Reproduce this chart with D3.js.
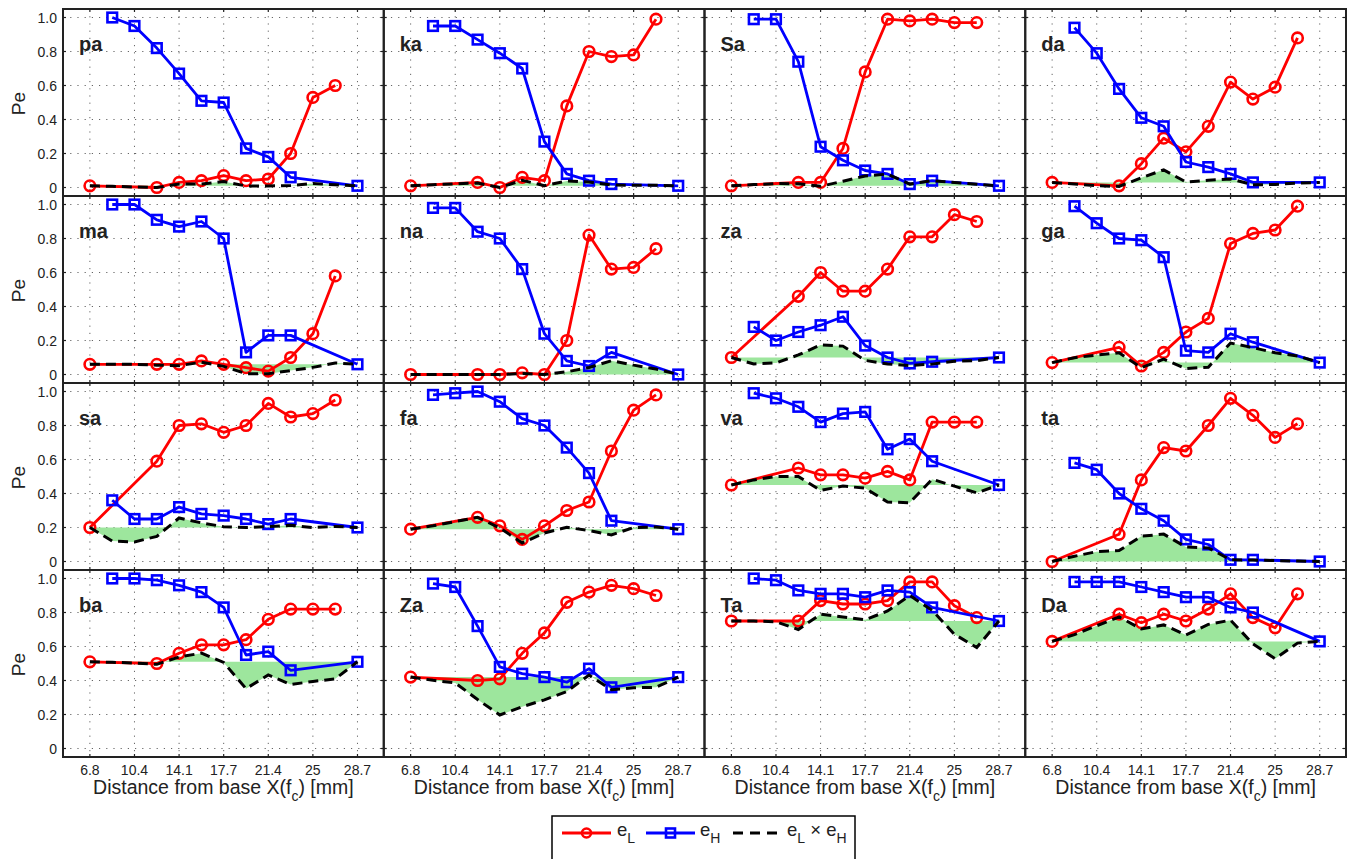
<!DOCTYPE html>
<html>
<head>
<meta charset="utf-8">
<script src="https://cdn.jsdelivr.net/npm/d3@7"></script>
<style>
  html, body { margin: 0; padding: 0; background: #fff; }
  svg { display: block; font-family: "Liberation Sans", Arial, Helvetica, sans-serif; }
</style>
</head>
<body>
<svg id="chart" width="1354" height="859"></svg>
<script>
// Syllables, one panel each, in reading order (4 x 4 grid)
const syllables = ["pa", "ka", "Sa", "da",
                   "ma", "na", "za", "ga",
                   "sa", "fa", "va", "ta",
                   "ba", "Za", "Ta", "Da"];

// Filter cutoff positions along the cochlea, X(fc) in mm
const channelX = [6.8, 8.63, 10.45, 12.28, 14.1, 15.93, 17.75, 19.58, 21.4, 23.23, 25.05, 26.88, 28.7];
const xTickValues = [6.8, 10.45, 14.1, 17.75, 21.4, 25.05, 28.7];
const xTickLabels = ["6.8", "10.4", "14.1", "17.7", "21.4", "25", "28.7"];
const yTickValues = [0, 0.2, 0.4, 0.6, 0.8, 1.0];
const yTickLabels = ["0", "0.2", "0.4", "0.6", "0.8", "1.0"];

// e_L: error with low-pass filtering (null = not measured at that cutoff)
const eL = [
  [0.01, null, null, 0.00, 0.03, 0.04, 0.07, 0.04, 0.05, 0.20, 0.53, 0.60, null], // pa
  [0.01, null, null, 0.03, 0.00, 0.06, 0.04, 0.48, 0.80, 0.77, 0.78, 0.99, null], // ka
  [0.01, null, null, 0.03, 0.03, 0.23, 0.68, 0.99, 0.98, 0.99, 0.97, 0.97, null], // Sa
  [0.03, null, null, 0.01, 0.14, 0.29, 0.21, 0.36, 0.62, 0.52, 0.59, 0.88, null], // da
  [0.06, null, null, 0.06, 0.06, 0.08, 0.06, 0.04, 0.02, 0.10, 0.24, 0.58, null], // ma
  [0.00, null, null, 0.00, 0.00, 0.01, 0.00, 0.20, 0.82, 0.62, 0.63, 0.74, null], // na
  [0.10, null, null, 0.46, 0.60, 0.49, 0.49, 0.62, 0.81, 0.81, 0.94, 0.90, null], // za
  [0.07, null, null, 0.16, 0.05, 0.13, 0.25, 0.33, 0.77, 0.83, 0.85, 0.99, null], // ga
  [0.20, null, null, 0.59, 0.80, 0.81, 0.76, 0.80, 0.93, 0.85, 0.87, 0.95, null], // sa
  [0.19, null, null, 0.26, 0.21, 0.13, 0.21, 0.30, 0.35, 0.65, 0.89, 0.98, null], // fa
  [0.45, null, null, 0.55, 0.51, 0.51, 0.49, 0.53, 0.48, 0.82, 0.82, 0.82, null], // va
  [0.00, null, null, 0.16, 0.48, 0.67, 0.65, 0.80, 0.96, 0.86, 0.73, 0.81, null], // ta
  [0.51, null, null, 0.50, 0.56, 0.61, 0.61, 0.64, 0.76, 0.82, 0.82, 0.82, null], // ba
  [0.42, null, null, 0.40, 0.41, 0.56, 0.68, 0.86, 0.92, 0.96, 0.94, 0.90, null], // Za
  [0.75, null, null, 0.75, 0.87, 0.85, 0.85, 0.87, 0.98, 0.98, 0.84, 0.77, null], // Ta
  [0.63, null, null, 0.79, 0.74, 0.79, 0.75, 0.82, 0.91, 0.77, 0.71, 0.91, null]  // Da
];

// e_H: error with high-pass filtering
const eH = [
  [null, 1.00, 0.95, 0.82, 0.67, 0.51, 0.50, 0.23, 0.18, 0.06, null, null, 0.01], // pa
  [null, 0.95, 0.95, 0.87, 0.79, 0.70, 0.27, 0.08, 0.04, 0.02, null, null, 0.01], // ka
  [null, 0.99, 0.99, 0.74, 0.24, 0.16, 0.10, 0.08, 0.02, 0.04, null, null, 0.01], // Sa
  [null, 0.94, 0.79, 0.58, 0.41, 0.36, 0.15, 0.12, 0.08, 0.03, null, null, 0.03], // da
  [null, 1.00, 1.00, 0.91, 0.87, 0.90, 0.80, 0.13, 0.23, 0.23, null, null, 0.06], // ma
  [null, 0.98, 0.98, 0.84, 0.80, 0.62, 0.24, 0.08, 0.05, 0.13, null, null, 0.00], // na
  [null, 0.28, 0.20, 0.25, 0.29, 0.34, 0.17, 0.10, 0.065, 0.075, null, null, 0.10], // za
  [null, 0.99, 0.89, 0.80, 0.79, 0.69, 0.14, 0.13, 0.24, 0.19, null, null, 0.07], // ga
  [null, 0.36, 0.25, 0.25, 0.32, 0.28, 0.27, 0.25, 0.22, 0.25, null, null, 0.20], // sa
  [null, 0.98, 0.99, 1.00, 0.94, 0.84, 0.80, 0.67, 0.52, 0.24, null, null, 0.19], // fa
  [null, 0.99, 0.96, 0.91, 0.82, 0.87, 0.88, 0.66, 0.72, 0.59, null, null, 0.45], // va
  [null, 0.58, 0.54, 0.40, 0.31, 0.24, 0.13, 0.10, 0.01, 0.01, null, null, 0.00], // ta
  [null, 1.00, 1.00, 0.99, 0.96, 0.92, 0.83, 0.55, 0.57, 0.46, null, null, 0.51], // ba
  [null, 0.97, 0.95, 0.72, 0.48, 0.44, 0.42, 0.39, 0.47, 0.36, null, null, 0.42], // Za
  [null, 1.00, 0.99, 0.93, 0.91, 0.91, 0.89, 0.93, 0.92, 0.83, null, null, 0.75], // Ta
  [null, 0.98, 0.98, 0.98, 0.95, 0.92, 0.89, 0.89, 0.83, 0.80, null, null, 0.63]  // Da
];

// e_L x e_H at every cutoff
const eLxH = [
  [0.01, 0.007, 0.003, 0.00, 0.02, 0.02, 0.035, 0.009, 0.009, 0.012, 0.023, 0.016, 0.01], // pa
  [0.01, 0.016, 0.022, 0.026, 0.00, 0.042, 0.011, 0.038, 0.032, 0.015, 0.013, 0.013, 0.01], // ka
  [0.01, 0.017, 0.023, 0.022, 0.007, 0.037, 0.068, 0.079, 0.02, 0.04, 0.029, 0.019, 0.01], // Sa
  [0.03, 0.02, 0.011, 0.006, 0.057, 0.104, 0.032, 0.043, 0.05, 0.016, 0.018, 0.026, 0.03], // da
  [0.06, 0.06, 0.06, 0.055, 0.052, 0.072, 0.048, 0.005, 0.005, 0.023, 0.042, 0.068, 0.06], // ma
  [0.00, 0.00, 0.00, 0.00, 0.00, 0.006, 0.00, 0.016, 0.041, 0.081, 0.055, 0.032, 0.00], // na
  [0.10, 0.062, 0.068, 0.115, 0.174, 0.167, 0.083, 0.062, 0.053, 0.061, 0.078, 0.081, 0.10], // za
  [0.07, 0.099, 0.114, 0.128, 0.04, 0.09, 0.035, 0.043, 0.185, 0.158, 0.128, 0.109, 0.07], // ga
  [0.20, 0.12, 0.115, 0.148, 0.256, 0.227, 0.205, 0.20, 0.205, 0.213, 0.20, 0.206, 0.20], // sa
  [0.19, 0.21, 0.235, 0.26, 0.197, 0.109, 0.168, 0.201, 0.182, 0.156, 0.20, 0.203, 0.19], // fa
  [0.45, 0.48, 0.50, 0.50, 0.418, 0.444, 0.431, 0.35, 0.346, 0.484, 0.443, 0.404, 0.45], // va
  [0.00, 0.031, 0.058, 0.064, 0.149, 0.161, 0.085, 0.08, 0.01, 0.009, 0.005, 0.003, 0.00], // ta
  [0.51, 0.507, 0.503, 0.495, 0.538, 0.561, 0.506, 0.352, 0.433, 0.377, 0.394, 0.41, 0.51], // ba
  [0.42, 0.401, 0.386, 0.288, 0.197, 0.246, 0.286, 0.335, 0.432, 0.346, 0.357, 0.36, 0.42], // Za
  [0.75, 0.75, 0.745, 0.70, 0.79, 0.774, 0.757, 0.809, 0.90, 0.813, 0.672, 0.594, 0.75], // Ta
  [0.63, 0.67, 0.722, 0.774, 0.703, 0.727, 0.668, 0.73, 0.755, 0.616, 0.528, 0.62, 0.63]  // Da
];

// ---- layout ----
const svg = d3.select("#chart");
const gridLeft = 63, gridTop = 9;
const panelW = 320.75, panelH = 187;
const nCols = 4, nRows = 4;

const RED = "#ff0000", BLUE = "#0000ff", FILL = "#9de69d", TEXT = "#222", FRAME = "#222";

const x = d3.scaleLinear().domain([4.6, 30.85]).range([0, panelW]);
const y = d3.scaleLinear().domain([-0.05, 1.05]).range([panelH, 0]);

const line = d3.line().x(d => x(d.x)).y(d => y(d.v));

syllables.forEach((name, k) => {
  const col = k % nCols, row = Math.floor(k / nCols);
  const g = svg.append("g")
    .attr("transform", `translate(${gridLeft + col * panelW},${gridTop + row * panelH})`);

  // dotted grid
  g.append("g").selectAll("line").data(xTickValues).join("line")
    .attr("x1", d => x(d)).attr("x2", d => x(d))
    .attr("y1", 0).attr("y2", panelH)
    .attr("stroke", "#333").attr("stroke-opacity", 0.75)
    .attr("stroke-width", 1).attr("stroke-dasharray", "1.2,6");
  g.append("g").selectAll("line").data(yTickValues).join("line")
    .attr("x1", 0).attr("x2", panelW)
    .attr("y1", d => y(d)).attr("y2", d => y(d))
    .attr("stroke", "#333").attr("stroke-opacity", 0.75)
    .attr("stroke-width", 1).attr("stroke-dasharray", "1.2,6");

  const prod = eLxH[k].map((v, i) => ({ x: channelX[i], v }));
  const first = prod[0], last = prod[prod.length - 1];
  const baseAt = xv => first.v + (last.v - first.v) * (xv - first.x) / (last.x - first.x);

  // shaded region between the product curve and the full-band level
  g.append("path")
    .datum(prod)
    .attr("d", d3.area().x(d => x(d.x)).y0(d => y(baseAt(d.x))).y1(d => y(d.v)))
    .attr("fill", FILL).attr("stroke", "none");

  const lowPts = eL[k].map((v, i) => ({ x: channelX[i], v })).filter(d => d.v !== null);
  const highPts = eH[k].map((v, i) => ({ x: channelX[i], v })).filter(d => d.v !== null);

  // e_L: red line with circles
  g.append("path").datum(lowPts).attr("d", line)
    .attr("fill", "none").attr("stroke", RED).attr("stroke-width", 2.8)
    .attr("stroke-linejoin", "round");
  g.append("g").selectAll("circle").data(lowPts).join("circle")
    .attr("cx", d => x(d.x)).attr("cy", d => y(d.v)).attr("r", 5.3)
    .attr("fill", "none").attr("stroke", RED).attr("stroke-width", 2.6);

  // e_H: blue line with squares
  g.append("path").datum(highPts).attr("d", line)
    .attr("fill", "none").attr("stroke", BLUE).attr("stroke-width", 2.8)
    .attr("stroke-linejoin", "round");
  g.append("g").selectAll("rect").data(highPts).join("rect")
    .attr("x", d => x(d.x) - 4.8).attr("y", d => y(d.v) - 4.8)
    .attr("width", 9.6).attr("height", 9.6)
    .attr("fill", "none").attr("stroke", BLUE).attr("stroke-width", 2.6);

  // e_L x e_H: black dashed
  g.append("path").datum(prod).attr("d", line)
    .attr("fill", "none").attr("stroke", "#000").attr("stroke-width", 3)
    .attr("stroke-dasharray", "10,6");

  // tick marks (inward, mirrored)
  const tk = g.append("g").attr("stroke", FRAME).attr("stroke-width", 1.2);
  xTickValues.forEach(v => {
    tk.append("line").attr("x1", x(v)).attr("x2", x(v)).attr("y1", panelH).attr("y2", panelH - 3);
    tk.append("line").attr("x1", x(v)).attr("x2", x(v)).attr("y1", 0).attr("y2", 3);
  });
  yTickValues.forEach(v => {
    tk.append("line").attr("x1", 0).attr("x2", 3).attr("y1", y(v)).attr("y2", y(v));
    tk.append("line").attr("x1", panelW).attr("x2", panelW - 3).attr("y1", y(v)).attr("y2", y(v));
  });

  // frame
  g.append("rect").attr("x", 0).attr("y", 0).attr("width", panelW).attr("height", panelH)
    .attr("fill", "none").attr("stroke", FRAME).attr("stroke-width", 2);

  // syllable label
  g.append("text").attr("x", 16).attr("y", 42)
    .attr("font-size", 20).attr("font-weight", "bold").attr("fill", TEXT)
    .text(name);

  // y axis labels on the first column
  if (col === 0) {
    g.append("g").selectAll("text").data(yTickValues).join("text")
      .attr("x", -6).attr("y", d => y(d))
      .attr("text-anchor", "end").attr("dominant-baseline", "central")
      .attr("font-size", 14).attr("fill", TEXT)
      .text((d, i) => yTickLabels[i]);
    g.append("text")
      .attr("transform", `translate(-45,${panelH / 2 + 1}) rotate(-90)`)
      .attr("text-anchor", "middle").attr("dominant-baseline", "central")
      .attr("font-size", 19).attr("fill", TEXT)
      .text("Pe");
  }

  // x axis labels on the bottom row
  if (row === nRows - 1) {
    g.append("g").selectAll("text").data(xTickValues).join("text")
      .attr("x", d => x(d)).attr("y", panelH + 18)
      .attr("text-anchor", "middle")
      .attr("font-size", 14).attr("fill", TEXT)
      .text((d, i) => xTickLabels[i]);
    const t = g.append("text").attr("x", panelW / 2).attr("y", panelH + 37)
      .attr("text-anchor", "middle").attr("font-size", 19.5).attr("fill", TEXT);
    t.append("tspan").text("Distance from base X(f");
    t.append("tspan").attr("font-size", 14).attr("dy", 7).text("c");
    t.append("tspan").attr("dy", -7).text(") [mm]");
  }
});

// ---- legend ----
const lg = svg.append("g");
lg.append("rect").attr("x", 552).attr("y", 816).attr("width", 303).attr("height", 60)
  .attr("fill", "#fff").attr("stroke", "#000").attr("stroke-width", 1.5);
const ly = 833;
lg.append("line").attr("x1", 562).attr("x2", 611).attr("y1", ly).attr("y2", ly)
  .attr("stroke", RED).attr("stroke-width", 2.8);
lg.append("circle").attr("cx", 586.5).attr("cy", ly).attr("r", 4.5)
  .attr("fill", "none").attr("stroke", RED).attr("stroke-width", 2.6);
lg.append("line").attr("x1", 646).attr("x2", 695).attr("y1", ly).attr("y2", ly)
  .attr("stroke", BLUE).attr("stroke-width", 2.8);
lg.append("rect").attr("x", 666).attr("y", ly - 4.5).attr("width", 9).attr("height", 9)
  .attr("fill", "none").attr("stroke", BLUE).attr("stroke-width", 2.6);
lg.append("line").attr("x1", 733).attr("x2", 782).attr("y1", ly).attr("y2", ly)
  .attr("stroke", "#000").attr("stroke-width", 3).attr("stroke-dasharray", "10,7");

function subLabel(xPos, parts) {
  const t = lg.append("text").attr("x", xPos).attr("y", 836)
    .attr("font-size", 18.5).attr("fill", TEXT);
  parts.forEach(p => {
    const s = t.append("tspan").text(p.t);
    if (p.sub) s.attr("font-size", 14).attr("dy", 7);
    if (p.up) s.attr("dy", -7);
  });
}
subLabel(617, [{ t: "e" }, { t: "L", sub: true }]);
subLabel(700, [{ t: "e" }, { t: "H", sub: true }]);
subLabel(787, [{ t: "e" }, { t: "L", sub: true }, { t: " \u00d7 ", up: true }, { t: "e" }, { t: "H", sub: true }]);
</script>
</body>
</html>
